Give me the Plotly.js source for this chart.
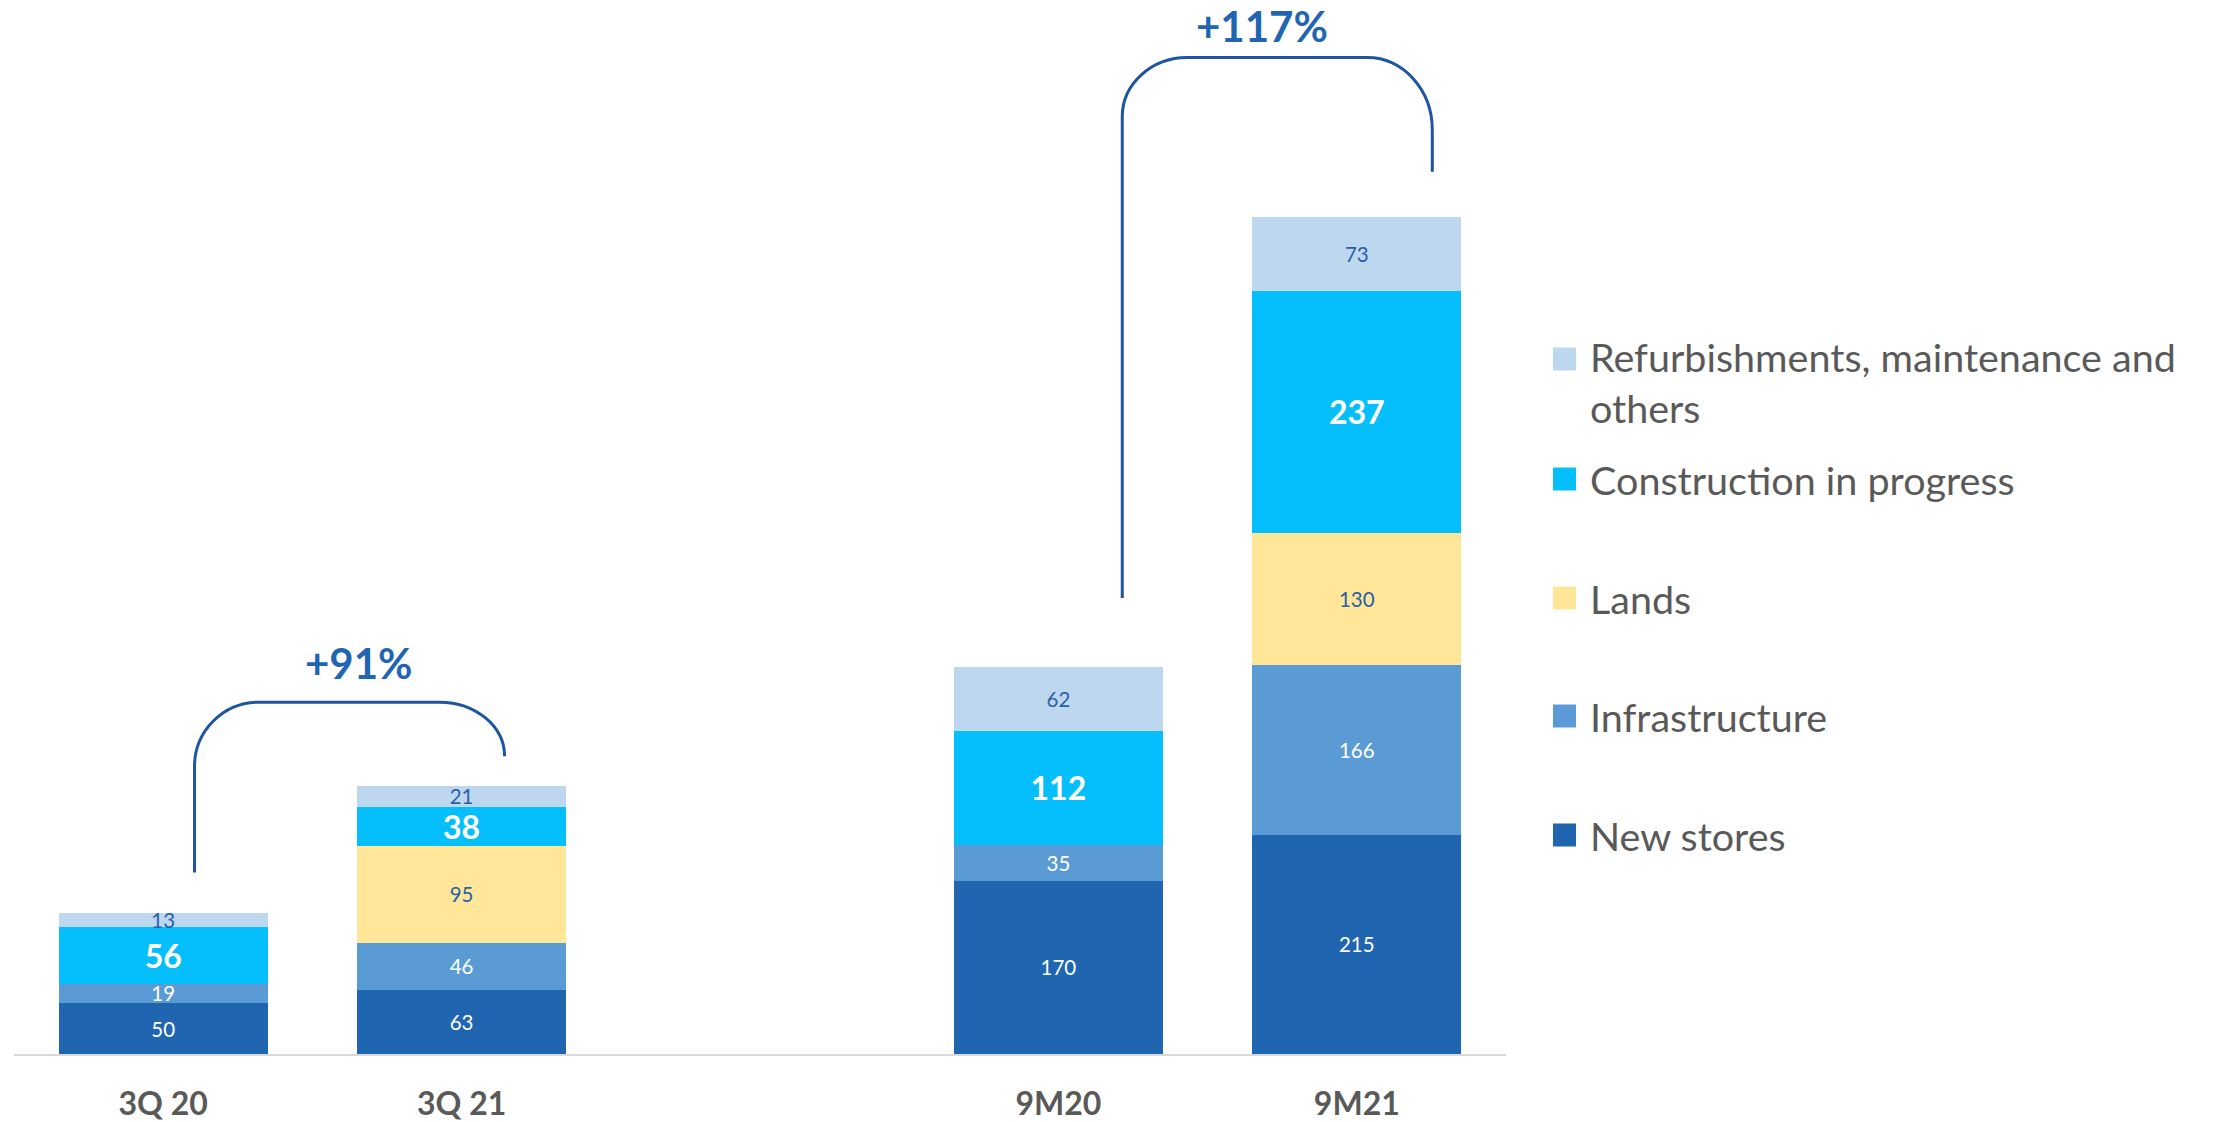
<!DOCTYPE html>
<html>
<head>
<meta charset="utf-8">
<script src="https://cdn.plot.ly/plotly-3.0.1.min.js"></script>
<style>html,body{margin:0;padding:0;background:#fff;}#chart{width:2216px;height:1122px;}</style>
</head>
<body>
<div id="chart"></div>
<script>
// ---------------- data ----------------
const categories = ['3Q 20', '3Q 21', '9M20', '9M21'];
const slotOrder = ['3Q 20', '3Q 21', '', '9M20', '9M21'];
const newStores = [50, 63, 170, 215];
const infrastructure = [19, 46, 35, 166];
const lands = [null, 95, null, 130];
const construction = [56, 38, 112, 237];
const refurbishments = [13, 21, 62, 73];
const seriesNames = ['New stores', 'Infrastructure', 'Lands', 'Construction in progress', 'Refurbishments, maintenance and others'];
const growthLabels = ['+91%', '+117%'];

// ---------------- styles ----------------
const FONT = 'Lato, "Open Sans", sans-serif';
const colors = ['#1F65AF', '#5B9BD5', '#FFE699', '#05BFFC', '#BDD7EE'];
const labelColors = ['#FFFFFF', '#FFFFFF', '#2A60AA', '#FFFFFF', '#2A60AA'];
const labelSizes = [20.5, 20.5, 20.5, 32, 20.5];
const labelWeights = ['normal', 'normal', 'normal', 'bold', 'normal'];
const bracketColor = '#1D55A0';
const growthColor = '#1F65B2';

const seriesValues = [newStores, infrastructure, lands, construction, refurbishments];
const xPos = categories.map(c => slotOrder.indexOf(c));

const traces = seriesValues.map((vals, i) => ({
  type: 'bar',
  name: seriesNames[i],
  x: xPos,
  y: vals,
  width: 0.7,
  marker: {color: colors[i], line: {width: 0}},
  text: vals.map(v => v == null ? '' : String(v)),
  textposition: 'inside',
  insidetextanchor: 'middle',
  constraintext: 'none',
  textangle: 0,
  textfont: {family: FONT, size: labelSizes[i], color: labelColors[i], weight: labelWeights[i]},
  hoverinfo: 'skip',
  showlegend: false
}));

const totals = categories.map((_, j) => seriesValues.reduce((s, arr) => s + (arr[j] || 0), 0));

// bracket helper (data coordinates)
const K = 0.5523;
function bracketPath(xl, ylb, xr, yrb, ytop, rxl, ryl, rxr, ryr) {
  return 'M' + xl + ',' + ylb +
    ' L' + xl + ',' + (ytop - ryl) +
    ' C' + xl + ',' + (ytop - (1 - K) * ryl) + ' ' + (xl + (1 - K) * rxl) + ',' + ytop + ' ' + (xl + rxl) + ',' + ytop +
    ' L' + (xr - rxr) + ',' + ytop +
    ' C' + (xr - (1 - K) * rxr) + ',' + ytop + ' ' + xr + ',' + (ytop - (1 - K) * ryr) + ' ' + xr + ',' + (ytop - ryr) +
    ' L' + xr + ',' + yrb;
}

const i3q20 = categories.indexOf('3Q 20'), i3q21 = categories.indexOf('3Q 21');
const i9m20 = categories.indexOf('9M20'), i9m21 = categories.indexOf('9M21');

const brackets = [
  {xl: xPos[i3q20] + 0.105, ylb: totals[i3q20] + 40, xr: xPos[i3q21] + 0.144, yrb: totals[i3q21] + 29,
   ytop: totals[i3q21] + 82, rxl: 0.215, ryl: 63, rxr: 0.218, ryr: 53, label: growthLabels[0], size: 42, shift: 12, dx: 0.03},
  {xl: xPos[i9m20] + 0.214, ylb: totals[i9m20] + 68, xr: xPos[i9m21] + 0.253, yrb: totals[i9m21] + 44,
   ytop: totals[i9m21] + 156, rxl: 0.218, ryl: 58, rxr: 0.218, ryr: 71, label: growthLabels[1], size: 42, shift: 5, dx: -0.05}
];

const shapes = [];
const annotations = [];
brackets.forEach((b) => {
  shapes.push({type: 'path', xref: 'x', yref: 'y',
    path: bracketPath(b.xl, b.ylb, b.xr, b.yrb, b.ytop, b.rxl, b.ryl, b.rxr, b.ryr),
    line: {color: bracketColor, width: 3}});
  annotations.push({xref: 'x', yref: 'y', x: (b.xl + b.xr) / 2 + b.dx,
    y: b.ytop, yanchor: 'bottom', xanchor: 'center', yshift: b.shift, showarrow: false,
    text: b.label, font: {family: FONT, size: b.size, color: growthColor, weight: 'bold'}});
});

// manual legend (top to bottom = reverse stacking order)
const plotL = 14, plotR = 1506, plotT = 30, plotB = 1054;
const pw = plotR - plotL, ph = plotB - plotT;
const legendRowsPx = [359, 479, 598, 716, 835];
const legendOrder = [4, 3, 2, 1, 0];
legendOrder.forEach((si, r) => {
  const cy = (plotB - legendRowsPx[r]) / ph;
  shapes.push({type: 'rect', xref: 'paper', yref: 'paper', xsizemode: 'pixel', ysizemode: 'pixel',
    xanchor: (1564.5 - plotL) / pw, yanchor: cy, x0: -11.5, x1: 11.5, y0: -11.5, y1: 11.5,
    fillcolor: colors[si], line: {width: 0}});
  const txt = seriesNames[si].replace(' others', '<br>others');
  const multi = txt.indexOf('<br>') >= 0;
  annotations.push({xref: 'paper', yref: 'paper', x: (1588 - plotL) / pw, y: cy,
    xanchor: 'left', yanchor: multi ? 'top' : 'middle', yshift: multi ? 28 : 0, align: 'left',
    showarrow: false, text: txt,
    font: {family: FONT, size: 39.5, color: '#595959'}});
});

const layout = {
  width: 2216, height: 1122,
  margin: {l: plotL, r: 2216 - plotR, t: plotT, b: 1122 - plotB, pad: 0},
  paper_bgcolor: '#FFFFFF', plot_bgcolor: '#FFFFFF',
  barmode: 'stack',
  showlegend: false,
  xaxis: {type: 'linear', range: [-0.5, slotOrder.length - 0.5], tickvals: xPos, ticktext: categories,
    showgrid: false, zeroline: false, showline: true, linecolor: '#D9D9D9', linewidth: 2,
    ticks: '', ticklabelstandoff: 21,
    tickfont: {family: FONT, size: 32, color: '#595959', weight: 'bold'}, fixedrange: true},
  yaxis: {range: [0, 1004], visible: false, showgrid: false, zeroline: false, fixedrange: true},
  shapes: shapes,
  annotations: annotations,
  font: {family: FONT}
};

Plotly.newPlot('chart', traces, layout, {displayModeBar: false, staticPlot: true});
</script>
</body>
</html>
